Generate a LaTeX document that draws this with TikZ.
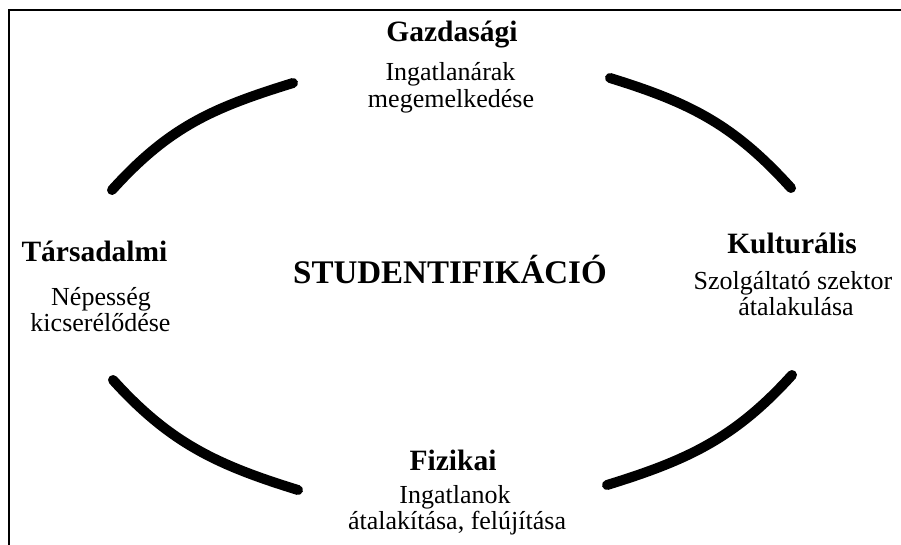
\documentclass[tikz,border=0pt]{standalone}
\usepackage{fontspec}
\setmainfont{Liberation Serif}
\begin{document}
\begin{tikzpicture}[x=1pt,y=-1pt,
  arcline/.style={line width=10pt,line cap=round,black},
  frameline/.style={line width=2pt,black},
  head/.style={anchor=base,inner sep=0pt,font=\fontsize{29.5}{30}\selectfont\bfseries},
  body/.style={anchor=base,inner sep=0pt,font=\fontsize{26}{27}\selectfont},
  title/.style={anchor=base,inner sep=0pt,font=\fontsize{33}{34}\selectfont\bfseries}]
\useasboundingbox (0,0) rectangle (901,545);
\fill[white] (0,0) rectangle (901,545);
\begin{scope}
\clip (0,0) rectangle (901,545);
\draw[frameline] (9,560) -- (9,10) -- (920,10);
\end{scope}
% arcs
\draw[arcline] (112,190) .. controls (169,127) and (212,108) .. (293,83);
\draw[arcline] (791,188) .. controls (734,125) and (691,103) .. (610,78);
\draw[arcline] (113,380) .. controls (170,443) and (217,465) .. (298,490);
\draw[arcline] (792,375) .. controls (735,438) and (688,460) .. (607,485);
% center
\node[title] (center) at (450,283) {STUDENTIFIKÁCIÓ};
% Gazdasagi
\node[head] (gh) at (452,41.5) {Gazdasági};
\node[body] (g1) at (450.5,81) {Ingatlanárak};
\node[body] (g2) at (451,107.5) {megemelkedése};
% Tarsadalmi
\node[head] (th) at (94.5,261.5) {Társadalmi};
\node[body] (t1) at (101,305) {Népesség};
\node[body] (t2) at (100.5,331.5) {kicserélődése};
% Kulturalis
\node[head] (kh) at (792,253) {Kulturális};
\node[body] (k1) at (793,289.5) {Szolgáltató szektor};
\node[body] (k2) at (796,315) {átalakulása};
% Fizikai
\node[head] (fh) at (453,470) {Fizikai};
\node[body] (f1) at (455,503) {Ingatlanok};
\node[body] (f2) at (457,529) {átalakítása, felújítása};
\end{tikzpicture}
\end{document}
